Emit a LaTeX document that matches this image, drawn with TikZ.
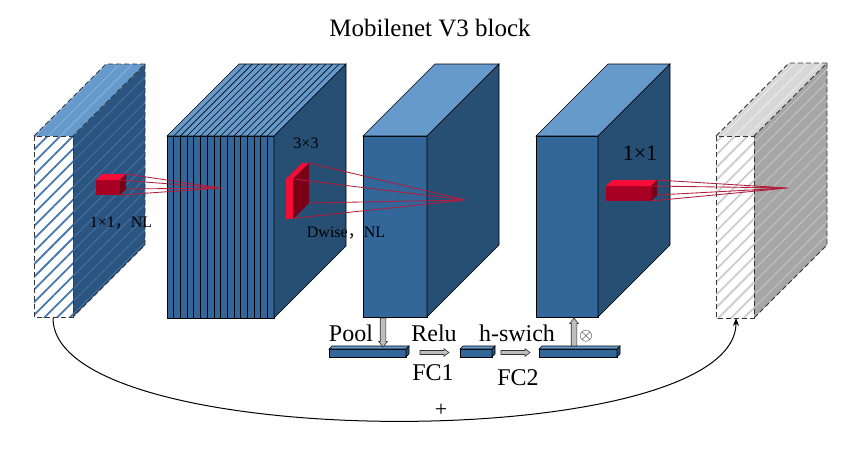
\documentclass[tikz,border=0pt]{standalone}
\usepackage{fontspec}
\setmainfont{Liberation Serif}
\newfontfamily\cjk{Noto Sans CJK SC}
\usetikzlibrary{patterns.meta,arrows.meta}
\definecolor{bfront}{RGB}{51,102,153}
\definecolor{bside}{RGB}{39,78,115}
\definecolor{btop}{RGB}{102,153,204}
\definecolor{hside}{RGB}{43,85,128}
\definecolor{hsidestripe}{RGB}{62,108,155}
\definecolor{htopstripe}{RGB}{125,172,220}
\definecolor{hatchblue}{RGB}{70,120,175}
\definecolor{gside}{RGB}{166,166,166}
\definecolor{gsidestripe}{RGB}{190,190,190}
\definecolor{gtop}{RGB}{215,215,215}
\definecolor{gtopstripe}{RGB}{232,232,232}
\definecolor{ghatch}{RGB}{205,205,205}
\definecolor{rbright}{RGB}{245,12,55}
\definecolor{rmid}{RGB}{168,0,34}
\definecolor{rdark}{RGB}{122,0,24}
\definecolor{linered}{RGB}{178,30,62}
\definecolor{arrgrey}{RGB}{190,190,190}
\tikzset{
  edge/.style={draw=black,line width=0.6pt},
  dashedge/.style={draw=black!80,line width=0.9pt,dash pattern=on 5pt off 3pt},
  rayline/.style={draw=linered,line width=0.85pt},
  hatch/.style={pattern={Lines[angle=45,distance=9pt,line width=1.8pt]}},
  thinhatch/.style={pattern={Lines[angle=45,distance=9pt,line width=1.2pt]}},
  blockarrow/.style={draw=black!80,fill=arrgrey,line width=0.6pt,line join=miter},
  bigtext/.style={font=\fontsize{24}{27}\selectfont,inner sep=0pt},
  smalltext/.style={font=\fontsize{16}{19}\selectfont,inner sep=0pt}
}
% #1 x, #2 y, #3 w, #4 h, #5 d, #6 front, #7 top, #8 side, #9 draw style
\newcommand\mycuboid[9]{%
  \path[#9,fill=#6] (#1,#2) rectangle ({#1+#3},{#2+#4});
  \path[#9,fill=#7] (#1,#2) -- ({#1+#3},#2) -- ({#1+#3+#5},{#2-#5}) -- ({#1+#5},{#2-#5}) -- cycle;
  \path[#9,fill=#8] ({#1+#3},#2) -- ({#1+#3+#5},{#2-#5}) -- ({#1+#3+#5},{#2+#4-#5}) -- ({#1+#3},{#2+#4}) -- cycle;
}
\newcommand\myhatchbox[9]{%
  \path[fill=white] (#1,#2) rectangle ({#1+#3},{#2+#4});
  \path[hatch,pattern color=#6] (#1,#2) rectangle ({#1+#3},{#2+#4});
  \path[fill=#7] (#1,#2) -- ({#1+#3},#2) -- ({#1+#3+#5},{#2-#5}) -- ({#1+#5},{#2-#5}) -- cycle;
  \path[thinhatch,pattern color=#8] (#1,#2) -- ({#1+#3},#2) -- ({#1+#3+#5},{#2-#5}) -- ({#1+#5},{#2-#5}) -- cycle;
  \path[fill=#9] ({#1+#3},#2) -- ({#1+#3+#5},{#2-#5}) -- ({#1+#3+#5},{#2+#4-#5}) -- ({#1+#3},{#2+#4}) -- cycle;
  \myhatchside{#1}{#2}{#3}{#4}{#5}%
}
\newcommand\myhatchside[5]{%
  \path[thinhatch,pattern color=\sidestripecol] ({#1+#3},#2) -- ({#1+#3+#5},{#2-#5}) -- ({#1+#3+#5},{#2+#4-#5}) -- ({#1+#3},{#2+#4}) -- cycle;
  \draw[dashedge,line join=round] (#1,#2) rectangle ({#1+#3},{#2+#4});
  \draw[dashedge,line join=round] (#1,#2) -- ({#1+#5},{#2-#5}) -- ({#1+#3+#5},{#2-#5}) -- ({#1+#3},#2);
  \draw[dashedge,line join=round] ({#1+#3+#5},{#2-#5}) -- ({#1+#3+#5},{#2+#4-#5}) -- ({#1+#3},{#2+#4});
}
% vertical block arrow: #1 x, #2 tail y, #3 tip y, #4 direction (+1 down, -1 up)
\newcommand\myvarrow[4]{%
  \draw[blockarrow] ({#1-2.8},#2) -- ({#1-2.8},{#3-#4*5.5}) -- ({#1-4.3},{#3-#4*5.5}) -- (#1,#3)
     -- ({#1+4.3},{#3-#4*5.5}) -- ({#1+2.8},{#3-#4*5.5}) -- ({#1+2.8},#2) -- cycle;
}
% horizontal block arrow pointing right: #1 tail x, #2 tip x, #3 y
\newcommand\myharrow[3]{%
  \draw[blockarrow] (#1,{#3-2}) -- ({#2-5},{#3-2}) -- ({#2-5},{#3-3.8}) -- (#2,#3)
     -- ({#2-5},{#3+3.8}) -- ({#2-5},{#3+2}) -- (#1,{#3+2}) -- cycle;
}
\begin{document}
\begin{tikzpicture}[x=1pt,y=-1pt]
\useasboundingbox[fill=white] (0,0) rectangle (859,451);

% ---- box 1 (input, hatched)
\def\sidestripecol{hsidestripe}
\myhatchbox{34}{136}{39}{181}{72}{hatchblue}{btop}{htopstripe}{hside}
\coordinate (inbot) at (53,318);

% red cube on box 1
\mycuboid{96}{180}{24}{15}{6}{rmid}{rbright}{rdark}{draw=none}
\coordinate (t1) at (221,188);

% ---- box 2 (stack of slices)
\mycuboid{167}{136}{107}{182}{72}{bfront}{btop}{bside}{edge}
\foreach \i in {1,...,15}{
  \pgfmathsetmacro\xx{167+\i*107/16}
  \draw[edge] (\xx,136) -- (\xx,318);
  \draw[edge] (\xx,136) -- ({\xx+72},64);
}
\draw[rayline] (126,174) -- (t1) (120,180) -- (t1) (126,189) -- (t1) (120,195) -- (t1);

% ---- box 3
\mycuboid{363}{136}{64}{181}{72}{bfront}{btop}{bside}{edge}

% red slab on box 2
\mycuboid{286}{179}{7}{40}{16}{rbright}{rbright}{rdark}{draw=none}
\coordinate (t2) at (465,200);
\draw[rayline] (309,163) -- (t2) (293,179) -- (t2) (309,203) -- (t2) (286,219) -- (t2);

% ---- box 4
\mycuboid{536}{136}{62}{181}{72}{bfront}{btop}{bside}{edge}

% ---- box 5 (output, grey hatched)
\def\sidestripecol{gsidestripe}
\myhatchbox{716}{136}{38}{182}{73}{ghatch}{gtop}{gtopstripe}{gside}
\coordinate (outbot) at (736,318);

% red bar on box 4
\mycuboid{606}{186}{45}{15}{6}{rmid}{rbright}{rdark}{draw=none}
\coordinate (t3) at (788,188);
\draw[rayline] (657,180) -- (t3) (651,186) -- (t3) (657,195) -- (t3) (651,201) -- (t3);

% ---- SE branch
\mycuboid{329}{349}{77}{8}{3}{bfront}{btop}{bside}{edge}
\mycuboid{460}{349}{32}{8}{3}{bfront}{btop}{bside}{edge}
\mycuboid{539}{349}{78}{8}{3}{bfront}{btop}{bside}{edge}
\myvarrow{383}{318}{347}{1}
\myharrow{420}{449}{352.5}
\myharrow{501}{530}{352.5}
\myvarrow{574}{346}{318}{-1}

% ---- labels
\node[font=\fontsize{25}{28}\selectfont,inner sep=0pt] (title) at (430,28) {Mobilenet V3 block};
\node[smalltext] (lab1) at (121,223) {1×1{\cjk ，}NL};
\node[smalltext] (lab2) at (306,143) {3×3};
\node[smalltext] (lab3) at (346,233) {Dwise{\cjk ，}NL};
\node[font=\fontsize{22}{26}\selectfont,inner sep=0pt] (lab4) at (640,153) {1×1};
\node[bigtext,anchor=base] (pool) at (351,341) {Pool};
\node[bigtext,anchor=base] (relu) at (434,341) {Relu};
\node[bigtext,anchor=base] (fc1) at (433,380) {FC1};
\node[bigtext,anchor=base] (hswich) at (517,341) {h-swich};
\node[bigtext,anchor=base] (fc2) at (518,385) {FC2};
\node[font=\fontsize{17}{20}\selectfont,inner sep=0pt] (otimes) at (586,336) {$\otimes$};

% ---- shortcut
\draw[line width=1pt,-{Stealth[length=8pt,width=6pt]}] (inbot) .. controls (53,455) and (736,455) .. (outbot);
\node[font=\fontsize{22}{24}\selectfont,inner sep=0pt] (plus) at (441,410) {+};
\end{tikzpicture}
\end{document}
